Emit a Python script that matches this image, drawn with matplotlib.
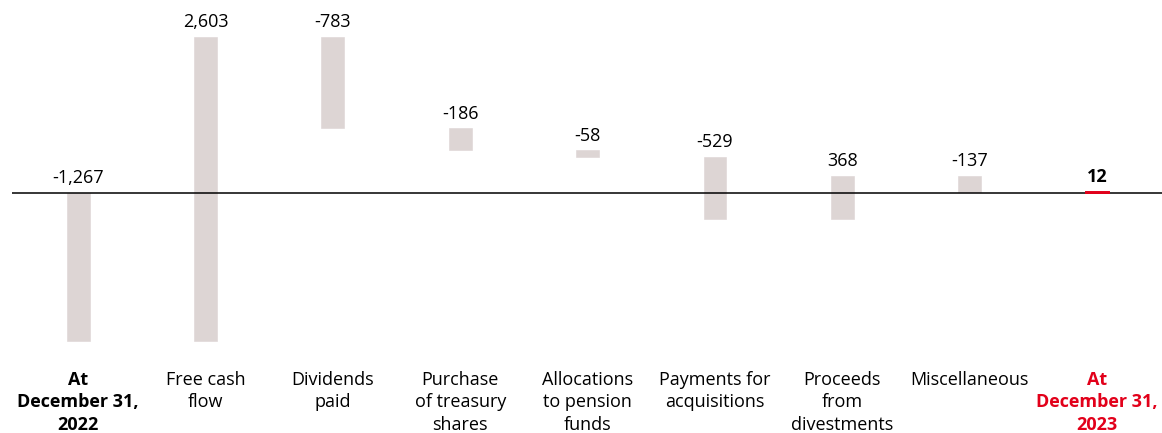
import numpy as np
import matplotlib.pyplot as plt

plt.rcParams['font.family'] = ['Open Sans', 'DejaVu Sans']

# Datos del puente de deuda neta
categorias = ["At\nDecember 31,\n2022", "Free cash\nflow", "Dividends\npaid",
              "Purchase\nof treasury\nshares", "Allocations\nto pension\nfunds",
              "Payments for\nacquisitions", "Proceeds\nfrom\ndivestments",
              "Miscellaneous", "At\nDecember 31,\n2023"]
cambios = [-1267, 2603, -783, -186, -58, -529, 368, -137]
total_final = 12
etiquetas = ["-1,267", "2,603", "-783", "-186", "-58", "-529", "368", "-137", "12"]

gris = '#ddd5d4'
rojo = '#e2001a'

# Bases acumuladas del waterfall
inicio = [0]
acum = cambios[0]
for c in cambios[1:]:
    inicio.append(acum)
    acum += c
bases = np.array(inicio + [0])
alturas = np.array(cambios + [total_final])
x = np.arange(len(categorias))

fig = plt.figure(figsize=(11.62, 4.33), dpi=100)
ax = fig.add_axes([12 / 1162, 68 / 433, 1150 / 1162, 365 / 433])

# barras grises (pasos) debajo de la línea cero, barra final roja encima
ax.bar(x[:-1], alturas[:-1], bottom=bases[:-1], width=0.18, color=gris,
       edgecolor=gris, linewidth=0.4, zorder=2)
ax.axhline(0, color='black', linewidth=1.1, zorder=3)
ax.bar(x[-1:], alturas[-1:], bottom=bases[-1:], width=0.18, color=rojo,
       edgecolor=rojo, linewidth=1.4, zorder=4)

for i in range(len(x)):
    tope = max(bases[i], bases[i] + alturas[i])
    peso = 'bold' if i == len(x) - 1 else 'normal'
    ax.annotate(etiquetas[i], (x[i], tope), xytext=(0, 4), textcoords='offset points',
                ha='center', va='bottom', fontsize=13, fontweight=peso, color='black')

ax.set_xlim(-0.52, 8.51)
ax.set_ylim(-1473, 1652)
ax.set_xticks(x)
ax.set_xticklabels(categorias, fontsize=13, linespacing=1.3, va='top')
for i, lbl in enumerate(ax.get_xticklabels()):
    if i == 0:
        lbl.set_fontweight('bold')
    if i == len(x) - 1:
        lbl.set_fontweight('bold')
        lbl.set_color(rojo)
ax.tick_params(axis='x', length=0, pad=4.5)
ax.set_yticks([])
for s in ax.spines.values():
    s.set_visible(False)

fig.savefig('out.png', dpi=100)
